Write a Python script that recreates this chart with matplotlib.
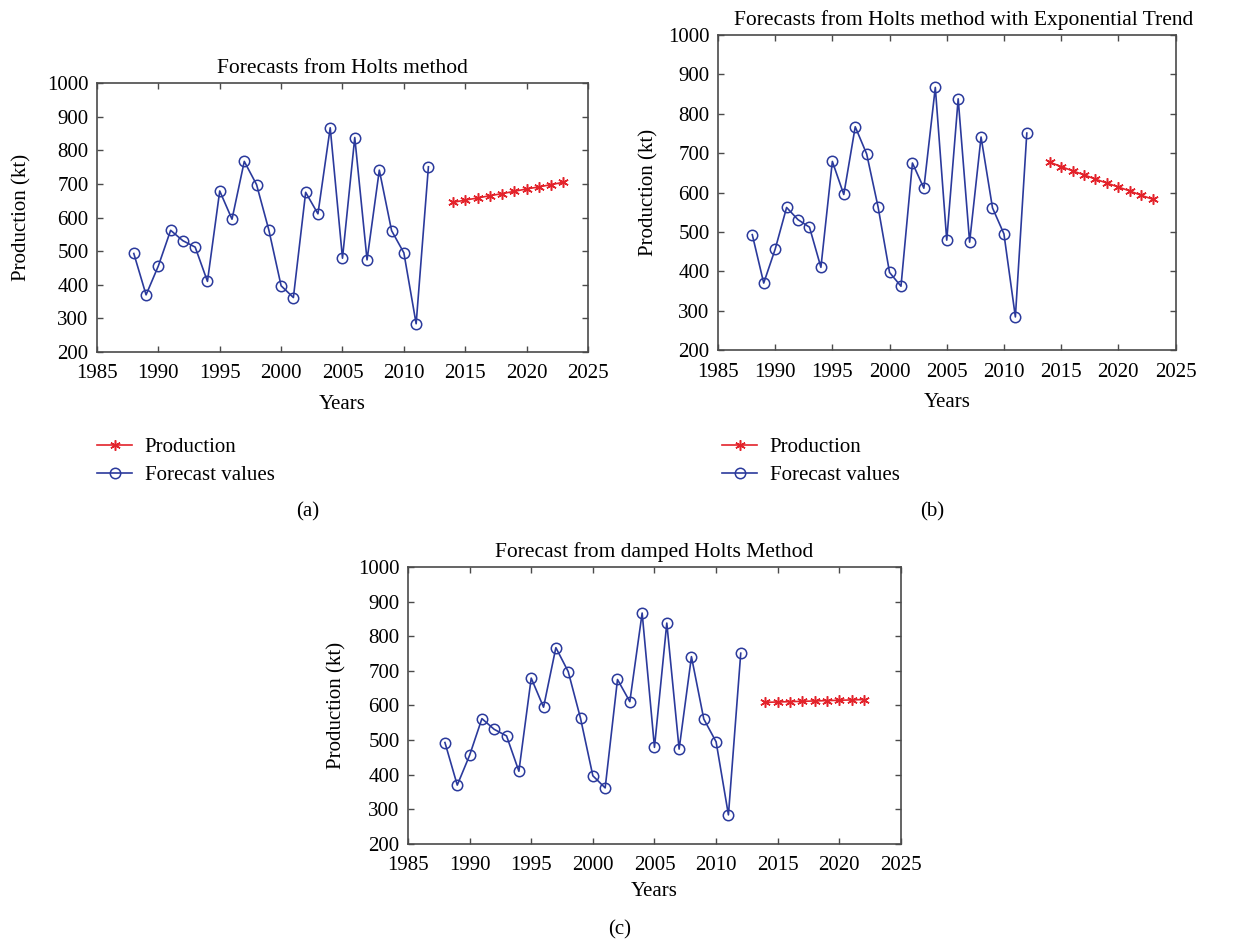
import matplotlib.pyplot as plt

plt.rcParams["font.family"] = ["Liberation Serif", "DejaVu Serif"]
plt.rcParams["font.size"] = 15

# observed series, 1988-2012
years = list(range(1988, 2013))
observed = [493, 370, 456, 562, 531, 512, 410, 679, 595, 767, 698, 563, 397,
            362, 675, 611, 867, 479, 838, 474, 741, 561, 495, 284, 751]

# forecasts
holt_years = list(range(2014, 2024))
holt_vals = [645, 652, 658, 665, 671, 678, 685, 691, 698, 705]

exp_years = list(range(2014, 2024))
exp_vals = [677, 666, 655, 645, 634, 624, 614, 604, 593, 583]

damped_years = list(range(2014, 2023))
damped_vals = [609, 610, 611, 612, 613, 614, 615, 616, 617]

blue = "#2B3A9C"
red = "#E3232B"
frame = "#4a4a4a"


def draw_panel(ax, fyears, fvals, title, ylab_x, xlab_y, title_x=0.5):
    ax.plot(fyears, fvals, color=red, lw=1.2, marker=(6, 2, 0), ms=7.5,
            mew=1.1, label="Production")
    ax.plot(years, observed, color=blue, lw=1.2, marker="o", ms=7.5,
            mfc="none", mew=1.1, label="Forecast values")
    ax.set_xlim(1985, 2025)
    ax.set_ylim(200, 1000)
    ax.set_xticks(range(1985, 2026, 5))
    ax.set_yticks(range(200, 1001, 100))
    ax.tick_params(direction="in", top=True, right=True, length=4,
                   width=1, color=frame, pad=6)
    ax.tick_params(axis="x", pad=9)
    for s in ax.spines.values():
        s.set_color(frame)
        s.set_linewidth(1.2)
    ax.set_title(title, pad=7, fontsize=15.5, x=title_x)
    ax.set_xlabel("Years", va="center")
    ax.set_ylabel("Production (kt)", va="center")
    ax.yaxis.set_label_coords(ylab_x, 0.5)
    ax.xaxis.set_label_coords(0.5, xlab_y)


fig = plt.figure(figsize=(12.4, 9.47), dpi=100)

ax_a = fig.add_axes([0.0782, 0.6283, 0.396, 0.284])
draw_panel(ax_a, holt_years, holt_vals, "Forecasts from Holts method", -0.152, -0.197)

ax_b = fig.add_axes([0.579, 0.6304, 0.369, 0.3326])
draw_panel(ax_b, exp_years, exp_vals,
           "Forecasts from Holts method with Exponential Trend", -0.151, -0.168,
           title_x=0.537)

ax_c = fig.add_axes([0.329, 0.1088, 0.3976, 0.2925])
draw_panel(ax_c, damped_years, damped_vals, "Forecast from damped Holts Method", -0.145, -0.170)

# legends below the top panels
for ax, x0 in [(ax_a, 0.063), (ax_b, 0.567)]:
    ax.legend(loc="upper left", bbox_to_anchor=(x0, 0.558), bbox_transform=fig.transFigure,
              frameon=False, handlelength=1.7, handletextpad=0.6, labelspacing=0.42,
              fontsize=15)

fig.text(0.248, 0.459, "(a)", ha="center", va="center")
fig.text(0.752, 0.459, "(b)", ha="center", va="center")
fig.text(0.500, 0.018, "(c)", ha="center", va="center")

fig.savefig("out.png", dpi=100)
